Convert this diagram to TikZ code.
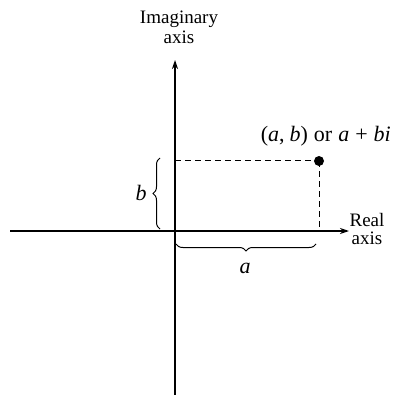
\documentclass[tikz,border=0pt]{standalone}
\usepackage{fontspec}
\setmainfont{Liberation Serif}
\usetikzlibrary{arrows.meta,decorations.pathreplacing}
\begin{document}
\begin{tikzpicture}[x=1pt,y=-1pt,
  axisline/.style={line width=1.3pt,-{Stealth[length=9pt,width=6pt]}},
  guide/.style={line width=1pt,dash pattern=on 6pt off 4pt},
  bracestyle/.style={line width=1pt,decorate,decoration={brace,amplitude=7pt}},
  lbl/.style={font=\fontsize{19}{21}\selectfont,inner sep=0pt},
  mathlbl/.style={font=\fontsize{22}{24}\selectfont,inner sep=0pt},
  every node/.style={lbl}]
\useasboundingbox (0,0) rectangle (392,395);
\coordinate (O) at (175,231);
\coordinate (xl) at (10,231);
\coordinate (xr) at (349,231);
\coordinate (yb) at (175,395);
\coordinate (yt) at (175,60);
\coordinate (xa) at (319,231);
\coordinate (yb2) at (175,161);
\node[circle,fill=black,minimum size=10pt,inner sep=0pt] (P) at (319,161) {};
\draw[axisline] (xl) -- (xr);
\draw[axisline] (yb) -- (yt);
\draw[guide] (yb2) -- (P.center);
\draw[guide] (P.center) -- (xa);
\draw[bracestyle] (160,229) -- (160,158);
\draw[bracestyle] (316,244) -- (176,244);
\node[align=center,font=\fontsize{19}{20}\selectfont] (imag) at (179,27) {Imaginary\\axis};
\node[align=center,font=\fontsize{19}{18}\selectfont] (real) at (367,229) {Real\\axis};
\node[mathlbl,anchor=east] (pt) at (391,136) {(\textit{a},\hspace{5pt}\textit{b})\hspace{6pt}or\hspace{6pt}\textit{a}\hspace{6pt}+\hspace{6pt}\textit{bi}};
\node[mathlbl] (b) at (141,193) {\textit{b}};
\node[mathlbl] (a) at (245,268) {\textit{a}};
\end{tikzpicture}
\end{document}
